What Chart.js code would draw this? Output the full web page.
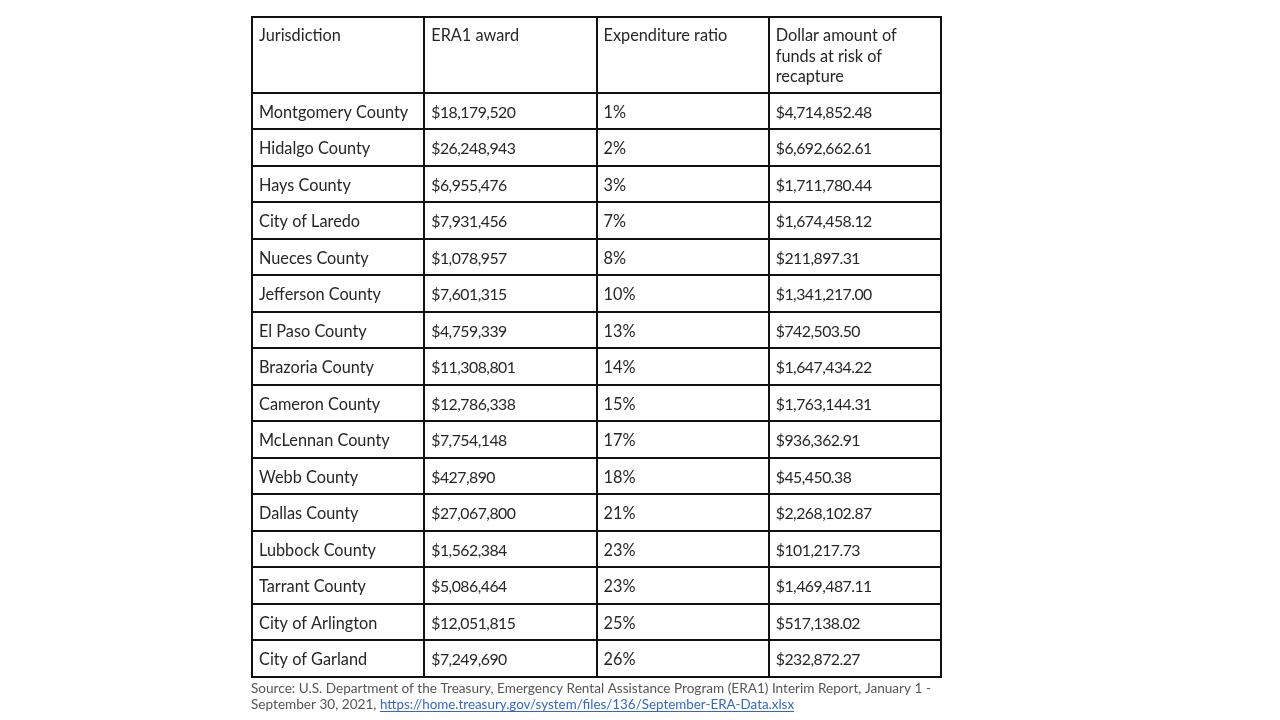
<!DOCTYPE html>
<html>
<head>
<meta charset="utf-8">
<script src="https://cdn.jsdelivr.net/npm/chart.js@4"></script>
<style>
    html, body { margin: 0; padding: 0; background: #ffffff; }
    #wrap { position: relative; width: 1280px; height: 720px; }
</style>
</head>
<body>
<div id="wrap"><canvas id="myChart" width="1280" height="720"></canvas></div>
<script>
const headers = ['Jurisdiction', 'ERA1 award', 'Expenditure ratio', 'Dollar amount of\nfunds at risk of\nrecapture'];
const jurisdictions = ['Montgomery County', 'Hidalgo County', 'Hays County', 'City of Laredo', 'Nueces County',
    'Jefferson County', 'El Paso County', 'Brazoria County', 'Cameron County', 'McLennan County', 'Webb County',
    'Dallas County', 'Lubbock County', 'Tarrant County', 'City of Arlington', 'City of Garland'];
const awards = [18179520, 26248943, 6955476, 7931456, 1078957, 7601315, 4759339, 11308801, 12786338, 7754148,
    427890, 27067800, 1562384, 5086464, 12051815, 7249690];
const ratios = [1, 2, 3, 7, 8, 10, 13, 14, 15, 17, 18, 21, 23, 23, 25, 26];
const atRisk = [4714852.48, 6692662.61, 1711780.44, 1674458.12, 211897.31, 1341217.00, 742503.50, 1647434.22,
    1763144.31, 936362.91, 45450.38, 2268102.87, 101217.73, 1469487.11, 517138.02, 232872.27];
const sourceLine1 = 'Source: U.S. Department of the Treasury, Emergency Rental Assistance Program (ERA1) Interim Report, January 1 -';
const sourceLine2 = 'September 30, 2021, ';
const sourceLink = 'https://home.treasury.gov/system/files/136/September-ERA-Data.xlsx';

// header row is taller than a data row (in row units)
const headerRows = 2.08;

const money = v => '$' + v.toLocaleString('en-US');
const money2 = v => '$' + v.toLocaleString('en-US', { minimumFractionDigits: 2, maximumFractionDigits: 2 });

// one point per cell: x = column, y = row index
const cells = [];
jurisdictions.forEach((name, i) => {
    const row = headerRows + i;
    cells.push({ x: 0, y: row, text: name });
    cells.push({ x: 1, y: row, text: money(awards[i]), num: true });
    cells.push({ x: 2, y: row, text: ratios[i] + '%' });
    cells.push({ x: 3, y: row, text: money2(atRisk[i]), num: true });
});
headers.forEach((h, c) => cells.push({ x: c, y: 0, text: h, header: true }));

const tablePlugin = {
    id: 'tablePlugin',
    afterDraw(chart) {
        const ctx = chart.ctx;
        const xs = chart.scales.x;
        const ys = chart.scales.y;
        ctx.save();

        // grid lines
        ctx.strokeStyle = '#111111';
        ctx.lineWidth = 2;
        for (let c = 0; c <= 4; c++) {
            const px = Math.round(xs.getPixelForValue(c));
            ctx.beginPath();
            ctx.moveTo(px, ys.getPixelForValue(0) - 1);
            ctx.lineTo(px, ys.getPixelForValue(headerRows + jurisdictions.length) + 1);
            ctx.stroke();
        }
        const rowLines = [0, headerRows];
        jurisdictions.forEach((n, i) => rowLines.push(headerRows + i + 1));
        rowLines.forEach(r => {
            const py = Math.round(ys.getPixelForValue(r));
            ctx.beginPath();
            ctx.moveTo(xs.getPixelForValue(0) - 1, py);
            ctx.lineTo(xs.getPixelForValue(4) + 1, py);
            ctx.stroke();
        });

        // cell texts
        const meta = chart.getDatasetMeta(0);
        ctx.fillStyle = '#262626';
        ctx.textAlign = 'left';
        ctx.textBaseline = 'alphabetic';
        meta.data.forEach((pt, i) => {
            const cell = cells[i];
            if (cell.num) {
                ctx.font = '15.8px Lato, "Open Sans", sans-serif';
                ctx.letterSpacing = '-0.5px';
            } else {
                ctx.font = '16.3px Lato, "Open Sans", sans-serif';
                ctx.letterSpacing = '0px';
            }
            if (cell.header) {
                cell.text.split('\n').forEach((line, k) => {
                    ctx.fillText(line, pt.x + 7, pt.y + 24 + k * 20.5);
                });
            } else {
                ctx.fillText(cell.text, pt.x + 7, pt.y + 25);
            }
        });
        ctx.letterSpacing = '0px';

        // source note
        const left = xs.getPixelForValue(0) - 1;
        const bottom = ys.getPixelForValue(headerRows + jurisdictions.length);
        ctx.font = '13.6px Lato, "Open Sans", sans-serif';
        ctx.fillStyle = '#555555';
        ctx.fillText(sourceLine1, left, bottom + 16);
        ctx.fillText(sourceLine2, left, bottom + 32);
        const lx = left + ctx.measureText(sourceLine2).width;
        ctx.font = '13.4px Lato, "Open Sans", sans-serif';
        ctx.fillStyle = '#3366cc';
        ctx.fillText(sourceLink, lx, bottom + 32);
        const lw = ctx.measureText(sourceLink).width;
        ctx.strokeStyle = '#3366cc';
        ctx.lineWidth = 1;
        ctx.beginPath();
        ctx.moveTo(lx, bottom + 34.5);
        ctx.lineTo(lx + lw, bottom + 34.5);
        ctx.stroke();
        ctx.restore();
    }
};

const ctx = document.getElementById('myChart');
new Chart(ctx, {
    type: 'scatter',
    data: {
        datasets: [{
            label: 'cells',
            data: cells.map(c => ({ x: c.x, y: c.y })),
            pointRadius: 0,
            pointHoverRadius: 0
        }]
    },
    options: {
        responsive: false,
        animation: false,
        events: [],
        layout: {
            padding: { left: 252, right: 339, top: 17, bottom: 43 }
        },
        plugins: {
            legend: { display: false },
            tooltip: { enabled: false }
        },
        scales: {
            x: { type: 'linear', min: 0, max: 4, display: false },
            y: { type: 'linear', min: 0, max: headerRows + 16, reverse: true, display: false }
        }
    },
    plugins: [tablePlugin]
});
</script>
</body>
</html>
